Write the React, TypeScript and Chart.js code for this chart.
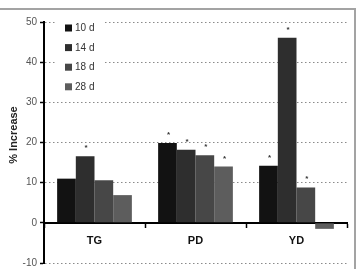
import React, { useEffect, useRef } from "react";
import { Chart, registerables } from "chart.js";

Chart.register(...registerables);

const categories = ["TG", "PD", "YD"];
const seriesLabels = ["10 d", "14 d", "18 d", "28 d"];
const values10d = [11.0, 19.9, 14.2];
const values14d = [16.6, 18.2, 46.1];
const values18d = [10.6, 16.8, 8.8];
const values28d = [6.9, 14.0, -1.5];
const signif10d = [false, true, true];
const signif14d = [true, true, true];
const signif18d = [false, true, true];
const signif28d = [false, true, false];
const yTicks = [-10, 0, 10, 20, 30, 40, 50];

const seriesValues = [values10d, values14d, values18d, values28d];
const seriesSignif = [signif10d, signif14d, signif18d, signif28d];
const seriesColors = ["#121212", "#2e2e2e", "#474747", "#5d5d5d"];
const FONT = "'Liberation Sans', Arial, sans-serif";

const overlayPlugin = {
  id: "overlay",
  afterDraw(chart: any) {
    const ctx = chart.ctx;
    const area = chart.chartArea;
    ctx.save();
    // significance stars
    ctx.fillStyle = "#333";
    ctx.font = `bold 8px ${FONT}`;
    ctx.textAlign = "center";
    ctx.textBaseline = "alphabetic";
    chart.data.datasets.forEach((ds: any, di: number) => {
      const meta = chart.getDatasetMeta(di);
      meta.data.forEach((el: any, i: number) => {
        if (seriesSignif[di][i]) {
          const top = Math.min(el.y, el.base);
          ctx.fillText("*", el.x + 1, top - 6);
        }
      });
    });
    // legend
    ctx.fillStyle = "#fff";
    ctx.fillRect(area.left + 12, area.top - 4, 48, 80);
    ctx.font = `10px ${FONT}`;
    ctx.textAlign = "left";
    ctx.textBaseline = "middle";
    seriesLabels.forEach((lab, i) => {
      const cy = area.top + 6 + i * 19.6;
      ctx.fillStyle = seriesColors[i];
      ctx.fillRect(area.left + 21, cy - 3.5, 7, 7);
      ctx.fillStyle = "#333";
      ctx.fillText(lab, area.left + 31, cy + 0.5);
    });
    // y title
    ctx.save();
    ctx.translate(14, 135);
    ctx.rotate(-Math.PI / 2);
    ctx.font = `bold 11px ${FONT}`;
    ctx.fillStyle = "#222";
    ctx.textAlign = "center";
    ctx.textBaseline = "middle";
    ctx.fillText("% Increase", 0, 0);
    ctx.restore();
    ctx.restore();
  },
};

export default function App() {
  const canvasRef = useRef<HTMLCanvasElement>(null);

  useEffect(() => {
    const canvas = canvasRef.current;
    if (!canvas) return;
    const chart = new Chart(canvas, {
      type: "bar",
      data: {
        labels: categories,
        datasets: seriesLabels.map((lab, i) => ({
          label: lab,
          data: seriesValues[i],
          backgroundColor: seriesColors[i],
          borderWidth: 0,
          barPercentage: 1,
          categoryPercentage: 0.74,
        })),
      },
      options: {
        animation: false,
        responsive: false,
        maintainAspectRatio: false,
        layout: { padding: { left: 0, top: 22, right: 11, bottom: 3 } },
        plugins: {
          legend: { display: false },
          tooltip: { enabled: false },
          title: { display: false },
        },
        scales: {
          y: {
            min: -10,
            max: 50,
            afterFit(scale: any) {
              scale.width = 44;
            },
            afterBuildTicks(scale: any) {
              scale.ticks = yTicks.map((v) => ({ value: v }));
            },
            ticks: {
              color: "#555",
              font: { family: FONT, size: 10, lineHeight: 0.6 },
              padding: 3,
            },
            grid: {
              color: (c: any) => (c.tick && c.tick.value === 0 ? "rgba(0,0,0,0)" : "#8a8a8a"),
              lineWidth: 1,
              tickColor: "#000",
              tickBorderDash: [],
              tickLength: 4,
              tickWidth: 1.5,
            },
            border: { color: "#000", width: 2, dash: [1.5, 2.5] },
          },
          x: {
            position: { y: 0 } as any,
            ticks: {
              color: "#111",
              font: { family: FONT, size: 11, weight: "bold" },
              padding: 8,
            },
            grid: {
              drawOnChartArea: false,
              drawTicks: true,
              tickLength: 4,
              tickColor: "#000",
              tickWidth: 1.5,
              offset: true,
            },
            border: { color: "#000", width: 2 },
          },
        },
      },
      plugins: [overlayPlugin],
    });
    return () => chart.destroy();
  }, []);

  return (
    <div style={{ position: "fixed", left: 0, top: 0, width: 358, height: 269, background: "#fff", overflow: "hidden" }}>
      <canvas ref={canvasRef} width={358} height={269} style={{ display: "block" }} />
      <div
        style={{
          position: "absolute",
          left: 0,
          top: 8,
          width: 354,
          height: 270,
          borderTop: "2px solid #a3a3a3",
          borderRight: "2px solid #a3a3a3",
          pointerEvents: "none",
        }}
      />
    </div>
  );
}
